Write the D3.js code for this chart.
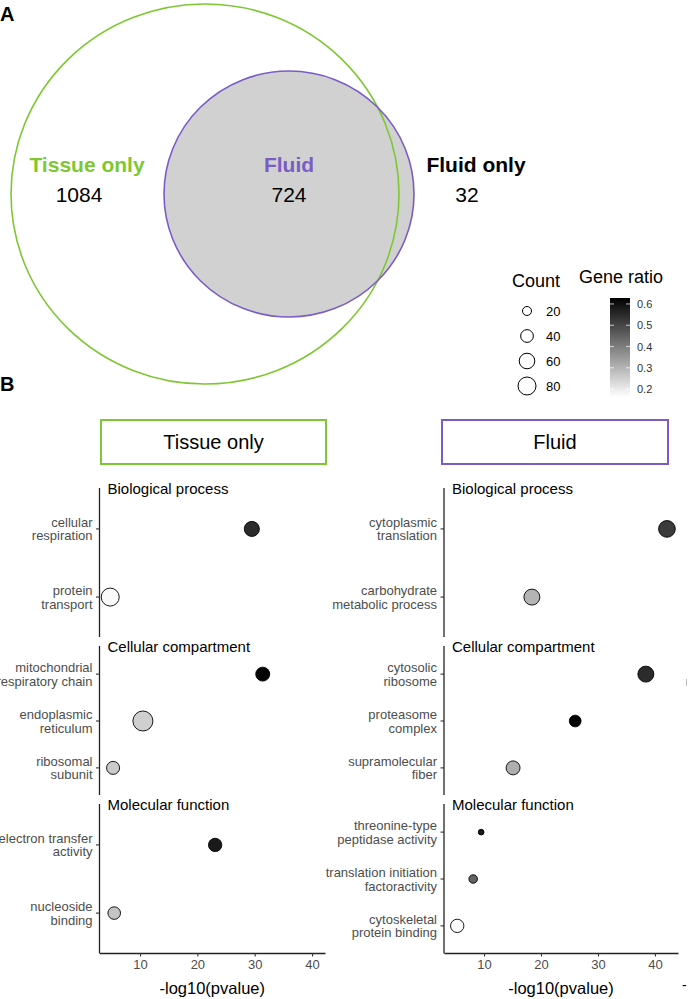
<!DOCTYPE html>
<html>
<head>
<meta charset="utf-8">
<script src="https://cdn.jsdelivr.net/npm/d3@7"></script>
<style>
  body { margin: 0; background: #fff; }
  svg { font-family: "Liberation Sans", Arial, Helvetica, sans-serif; }
</style>
</head>
<body>
<div id="chart-area"></div>
<script>
// Venn counts
const vennLabels = ["Tissue only", "Fluid", "Fluid only"]
const vennCounts = [1084, 724, 32]

// GO facets
const facets = ["Biological process", "Cellular compartment", "Molecular function"]

// Tissue only panel
const tissueTerms = [
  ["cellular respiration", "protein transport"],
  ["mitochondrial respiratory chain", "endoplasmic reticulum", "ribosomal subunit"],
  ["electron transfer activity", "nucleoside binding"]
]
const tissueLabels = [
  [["cellular", "respiration"], ["protein", "transport"]],
  [["mitochondrial", "respiratory chain"], ["endoplasmic", "reticulum"], ["ribosomal", "subunit"]],
  [["electron transfer", "activity"], ["nucleoside", "binding"]]
]
const tissuePval = [[29.5, 4.8], [31.4, 10.5, 5.3], [23.1, 5.5]]
const tissueCount = [[56, 80], [48, 99, 42], [44, 39]]
const tissueRatio = [[0.55, 0.17], [0.62, 0.25, 0.26], [0.58, 0.27]]

// Fluid panel
const fluidTerms = [
  ["cytoplasmic translation", "carbohydrate metabolic process"],
  ["cytosolic ribosome", "proteasome complex", "supramolecular fiber"],
  ["threonine-type peptidase activity", "translation initiation factoractivity", "cytoskeletal protein binding"]
]
const fluidLabels = [
  [["cytoplasmic", "translation"], ["carbohydrate", "metabolic process"]],
  [["cytosolic", "ribosome"], ["proteasome", "complex"], ["supramolecular", "fiber"]],
  [["threonine-type", "peptidase activity"], ["translation initiation", "factoractivity"], ["cytoskeletal", "protein binding"]]
]
const fluidPval = [[42.1, 18.4], [38.4, 26.0, 15.1], [9.5, 8.1, 5.3]]
const fluidCount = [[69, 63], [63, 34, 48], [8, 18, 44]]
const fluidRatio = [[0.52, 0.30], [0.55, 0.62, 0.31], [0.58, 0.45, 0.17]]

// legend values
const countTicks = [20, 40, 60, 80]
const ratioTicks = [0.2, 0.3, 0.4, 0.5, 0.6]
const xTicks = [10, 20, 30, 40]

const green = "#7dc832"
const purple = "#7a5cc6"

const svg = d3.select("#chart-area")
  .append("svg")
    .attr("width", 688)
    .attr("height", 999)

// Panel letters
svg.append("text").attr("x", 0).attr("y", 21)
  .attr("font-size", "20px").attr("font-weight", "bold").text("A")
svg.append("text").attr("x", 0).attr("y", 391)
  .attr("font-size", "20px").attr("font-weight", "bold").text("B")

// ---- Venn ----
const venn = svg.append("g")
venn.append("ellipse")
  .attr("cx", 289).attr("cy", 194).attr("rx", 125).attr("ry", 123)
  .attr("fill", "#d1d1d1").attr("stroke", "none")
venn.append("ellipse")
  .attr("cx", 205).attr("cy", 194).attr("rx", 194).attr("ry", 190)
  .attr("fill", "none").attr("stroke", green).attr("stroke-width", 1.6)
venn.append("ellipse")
  .attr("cx", 289).attr("cy", 194).attr("rx", 125).attr("ry", 123)
  .attr("fill", "none").attr("stroke", purple).attr("stroke-width", 1.6)

const vennX = [87, 289, 476]
const vennColors = [green, purple, "#000"]
vennLabels.forEach((lab, i) => {
  venn.append("text")
    .attr("x", vennX[i]).attr("y", 172)
    .attr("text-anchor", "middle")
    .attr("font-size", "21px").attr("font-weight", "bold")
    .attr("fill", vennColors[i])
    .text(lab)
  venn.append("text")
    .attr("x", i == 2 ? 467 : vennX[i] - (i == 0 ? 8 : 0)).attr("y", 202)
    .attr("text-anchor", "middle")
    .attr("font-size", "21px")
    .text(vennCounts[i])
})

// ---- scales shared ----
const sizeScale = d3.scaleSqrt().domain([0, 80]).range([0, 9])
const colorScale = d3.scaleLinear().domain([0.163, 0.628]).range(["#ffffff", "#000000"])

// ---- legends ----
const leg = svg.append("g")
leg.append("text").attr("x", 512).attr("y", 287)
  .attr("font-size", "18px").text("Count")
countTicks.forEach((c, i) => {
  const cy = 311 + i * 25
  leg.append("circle")
    .attr("cx", 527).attr("cy", cy).attr("r", sizeScale(c))
    .attr("fill", "none").attr("stroke", "#000").attr("stroke-width", 1)
  leg.append("text").attr("x", 546).attr("y", cy + 4.5)
    .attr("font-size", "13px").text(c)
})

leg.append("text").attr("x", 579).attr("y", 283)
  .attr("font-size", "18px").text("Gene ratio")

const grad = svg.append("defs").append("linearGradient")
  .attr("id", "ratioGrad").attr("x1", 0).attr("x2", 0).attr("y1", 1).attr("y2", 0)
grad.append("stop").attr("offset", "0%").attr("stop-color", colorScale(0.163))
grad.append("stop").attr("offset", "100%").attr("stop-color", colorScale(0.628))

const barY = d3.scaleLinear().domain([0.163, 0.628]).range([397, 298])
leg.append("rect")
  .attr("x", 610).attr("y", 298).attr("width", 20).attr("height", 99)
  .attr("fill", "url(#ratioGrad)")
ratioTicks.forEach(t => {
  const y = barY(t)
  leg.append("line").attr("x1", 610).attr("x2", 614).attr("y1", y).attr("y2", y)
    .attr("stroke", "#fff").attr("stroke-opacity", 0.7)
  leg.append("line").attr("x1", 626).attr("x2", 630).attr("y1", y).attr("y2", y)
    .attr("stroke", "#fff").attr("stroke-opacity", 0.7)
  leg.append("text").attr("x", 637).attr("y", y + 4)
    .attr("font-size", "11px").attr("fill", "#333").text(t.toFixed(1))
})

// ---- dot plots ----
const facetRanges = [[488, 638], [646, 796], [804, 954]]

function drawPanel(opts) {
  const { title, boxColor, boxX, boxW, axisX, axisRight, domain, terms, labels, pval, count, ratio } = opts
  const p = svg.append("g")

  p.append("rect")
    .attr("x", boxX).attr("y", 420).attr("width", boxW).attr("height", 44)
    .attr("fill", "none").attr("stroke", boxColor).attr("stroke-width", 2)
  p.append("text")
    .attr("x", boxX + boxW / 2).attr("y", 449)
    .attr("text-anchor", "middle").attr("font-size", "20px")
    .text(title)

  const x = d3.scaleLinear().domain(domain).range([axisX, axisRight])

  facets.forEach((f, fi) => {
    const [top, bottom] = facetRanges[fi]
    const y = d3.scalePoint().domain(terms[fi]).range([top, bottom]).padding(0.6)

    // y axis line
    p.append("line")
      .attr("x1", axisX).attr("x2", axisX).attr("y1", top).attr("y2", fi == 2 ? bottom - 0.5 : bottom - 1)
      .attr("stroke", "#222").attr("stroke-width", 1.3)

    p.append("text")
      .attr("x", axisX + 8).attr("y", top + 6)
      .attr("font-size", "15px").text(f)

    terms[fi].forEach((t, ti) => {
      const ty = y(t)
      p.append("line")
        .attr("x1", axisX - 3.5).attr("x2", axisX).attr("y1", ty).attr("y2", ty)
        .attr("stroke", "#333").attr("stroke-width", 1.1)
      const lines = labels[fi][ti]
      const txt = p.append("text")
        .attr("x", axisX - 7).attr("text-anchor", "end")
        .attr("font-size", "13px").attr("fill", "#4d4d4d")
      lines.forEach((l, li) => {
        txt.append("tspan").attr("x", axisX - 7)
          .attr("y", ty - 2 + li * 13.5)
          .text(l)
      })
    })

    p.selectAll(null)
      .data(terms[fi].map((t, ti) => ({ term: t, p: pval[fi][ti], c: count[fi][ti], r: ratio[fi][ti] })))
      .enter().append("circle")
        .attr("cx", d => x(d.p))
        .attr("cy", d => y(d.term))
        .attr("r", d => sizeScale(d.c))
        .attr("fill", d => colorScale(d.r))
        .attr("stroke", "#000").attr("stroke-width", 0.9)
  })

  // x axis
  const xAxis = p.append("g")
    .attr("transform", `translate(0, 953)`)
    .call(d3.axisBottom(x).tickValues(xTicks).tickSize(3.5).tickSizeOuter(0).tickPadding(3))
  xAxis.select(".domain").attr("stroke", "#222").attr("stroke-width", 1.3)
  xAxis.selectAll(".tick line").attr("stroke", "#333").attr("stroke-width", 1.1)
  xAxis.selectAll(".tick text")
    .attr("font-size", "13px").attr("fill", "#4d4d4d")
    .attr("font-family", "Liberation Sans, Arial, sans-serif")

  p.append("text")
    .attr("x", (axisX + axisRight) / 2).attr("y", 994)
    .attr("text-anchor", "middle").attr("font-size", "16.5px")
    .text("-log10(pvalue)")
}

drawPanel({
  title: "Tissue only", boxColor: green, boxX: 101, boxW: 225,
  axisX: 99.5, axisRight: 325, domain: [2.93, 42.26],
  terms: tissueTerms, labels: tissueLabels,
  pval: tissuePval, count: tissueCount, ratio: tissueRatio
})

drawPanel({
  title: "Fluid", boxColor: purple, boxX: 442, boxW: 226,
  axisX: 444, axisRight: 678, domain: [2.98, 44.04],
  terms: fluidTerms, labels: fluidLabels,
  pval: fluidPval, count: fluidCount, ratio: fluidRatio
})

// clipped remnants at right edge
svg.append("line").attr("x1", 686.5).attr("x2", 686.5).attr("y1", 679).attr("y2", 686)
  .attr("stroke", "#bbb").attr("stroke-width", 1)
svg.append("text").attr("x", 682).attr("y", 990).attr("font-size", "14px").text("-")
</script>
</body>
</html>
